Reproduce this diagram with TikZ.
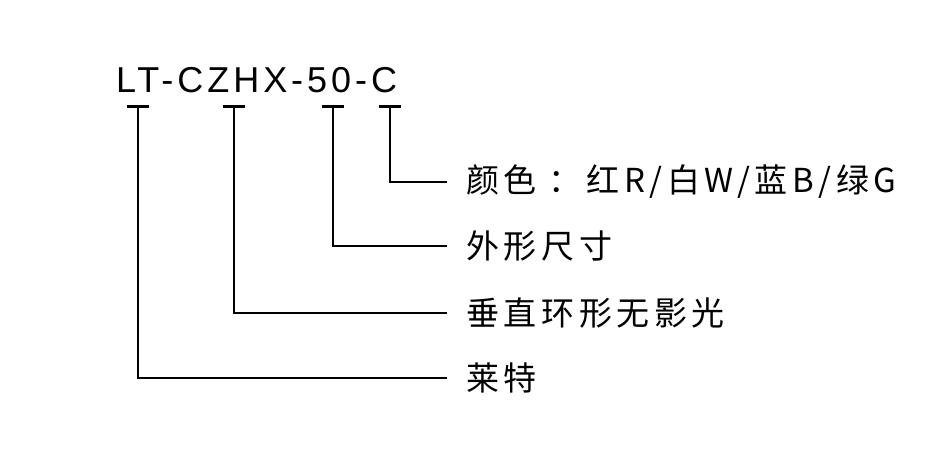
\documentclass[tikz,border=0pt]{standalone}
\usepackage{fontspec}
\setmainfont{Liberation Sans}
\newfontfamily\cjk[LetterSpace=14]{Noto Sans CJK SC}
\newfontfamily\code[LetterSpace=11]{Liberation Sans}
\begin{document}
\begin{tikzpicture}[x=1pt,y=-1pt,
  lead/.style={line width=1.6pt,black},
  bar/.style={line width=3pt,black},
  lbl/.style={anchor=west,inner sep=0pt,font=\cjk\fontsize{33}{33}\selectfont},
  ]
\useasboundingbox (0,0) rectangle (949,462);
\node[anchor=base west,inner sep=0pt,font=\code\fontsize{36}{36}\selectfont] (code) at (116,93) {LT-CZHX-50-C};
\coordinate (b1) at (138,107);
\coordinate (b2) at (234,107);
\coordinate (b3) at (333,107);
\coordinate (b4) at (390,107);
\foreach \b in {b1,b2,b3,b4}{\draw[bar] ([xshift=-11pt]\b) -- ([xshift=11pt]\b);}
\node[lbl] (t4) at (466,182) {颜色 ：红R/白W/蓝B/绿G};
\node[lbl] (t3) at (466,246) {外形尺寸};
\node[lbl] (t2) at (466,313) {垂直环形无影光};
\node[lbl] (t1) at (466,378) {莱特};
\coordinate (e4) at (447,182);
\coordinate (e3) at (447,246);
\coordinate (e2) at (447,313);
\coordinate (e1) at (447,378);
\draw[lead] (b4) |- (e4);
\draw[lead] (b3) |- (e3);
\draw[lead] (b2) |- (e2);
\draw[lead] (b1) |- (e1);
\end{tikzpicture}
\end{document}
